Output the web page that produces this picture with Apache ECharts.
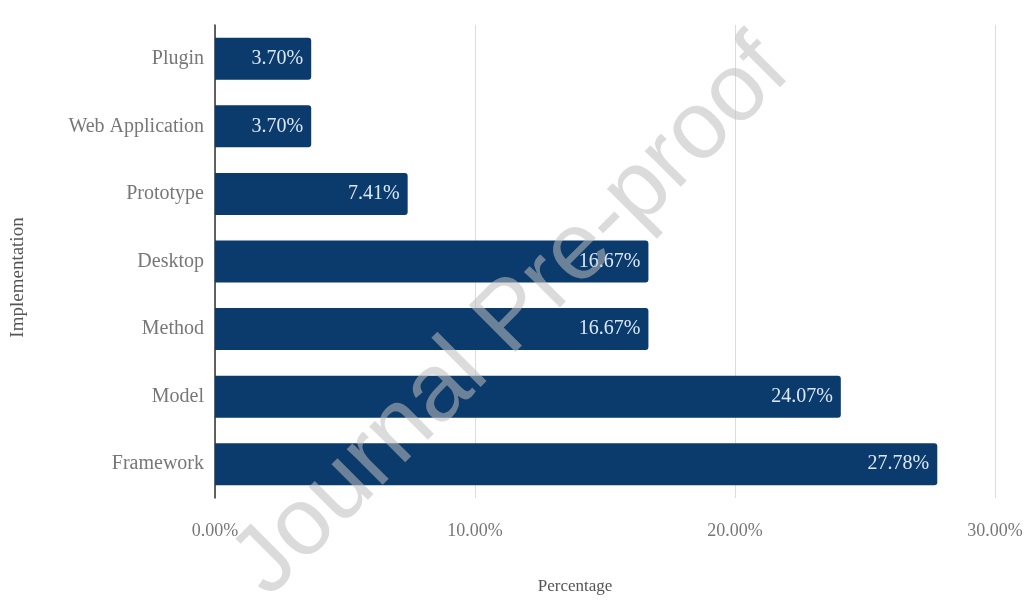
<!DOCTYPE html>
<html>
<head>
<meta charset="utf-8">
<script src="https://cdn.jsdelivr.net/npm/echarts@6/dist/echarts.min.js"></script>
<style>
html, body { margin: 0; padding: 0; background: #fff; }
#chart { width: 1029px; height: 600px; }
</style>
</head>
<body>
<div id="chart"></div>
<script>
// categories bottom -> top
var categories = ['Framework', 'Model', 'Method', 'Desktop', 'Prototype', 'Web Application', 'Plugin'];
var values = [27.78, 24.07, 16.67, 16.67, 7.41, 3.70, 3.70];
var xTicks = [0, 10, 20, 30];

var serif = '"Liberation Serif", "DejaVu Serif", serif';
var myChart = echarts.init(document.getElementById('chart'));

var option = {
	backgroundColor: '#fff',
	animation: false,
	grid: { left: 215, right: 34, top: 25, bottom: 101 },
	xAxis: {
		type: 'value',
		min: xTicks[0],
		max: xTicks[xTicks.length - 1],
		interval: 10,
		name: 'Percentage',
		nameLocation: 'middle',
		nameGap: 80,
		nameTextStyle: { color: '#555', fontFamily: serif, fontSize: 17, padding: [0, 60, 0, 0] },
		axisLine: { show: false },
		axisTick: { show: false },
		axisLabel: {
			color: '#777', fontFamily: serif, fontSize: 18, margin: 24,
			formatter: function (v) { return v.toFixed(2) + '%'; }
		},
		splitLine: { show: true, lineStyle: { color: '#dcdcdc', width: 1 } }
	},
	yAxis: {
		type: 'category',
		data: categories,
		name: 'Implementation',
		nameLocation: 'middle',
		nameGap: 187,
		nameTextStyle: { color: '#555', fontFamily: serif, fontSize: 19, padding: [0, 32, 0, 0] },
		axisLine: { show: true, lineStyle: { color: '#333', width: 1.5 } },
		axisTick: { show: false },
		axisLabel: { color: '#777', fontFamily: serif, fontSize: 20, margin: 11 }
	},
	series: [{
		type: 'bar',
		data: values,
		barWidth: 42,
		itemStyle: { color: '#0b3a6c', borderRadius: [0, 3, 3, 0] },
		label: {
			show: true,
			position: 'insideRight',
			distance: 8,
			color: '#dde8f5',
			fontFamily: serif,
			fontSize: 20,
			formatter: function (p) { return p.value.toFixed(2) + '%'; }
		}
	}],
	graphic: [{
		type: 'text',
		x: 512,
		y: 318,
		rotation: Math.PI / 4,
		z: 100,
		style: {
			text: 'Journal Pre-proof',
			font: '96px "Liberation Sans", Arial, sans-serif',
			fill: 'rgba(190,190,190,0.55)',
			align: 'center',
			verticalAlign: 'middle'
		}
	}]
};
myChart.setOption(option);
</script>
</body>
</html>
